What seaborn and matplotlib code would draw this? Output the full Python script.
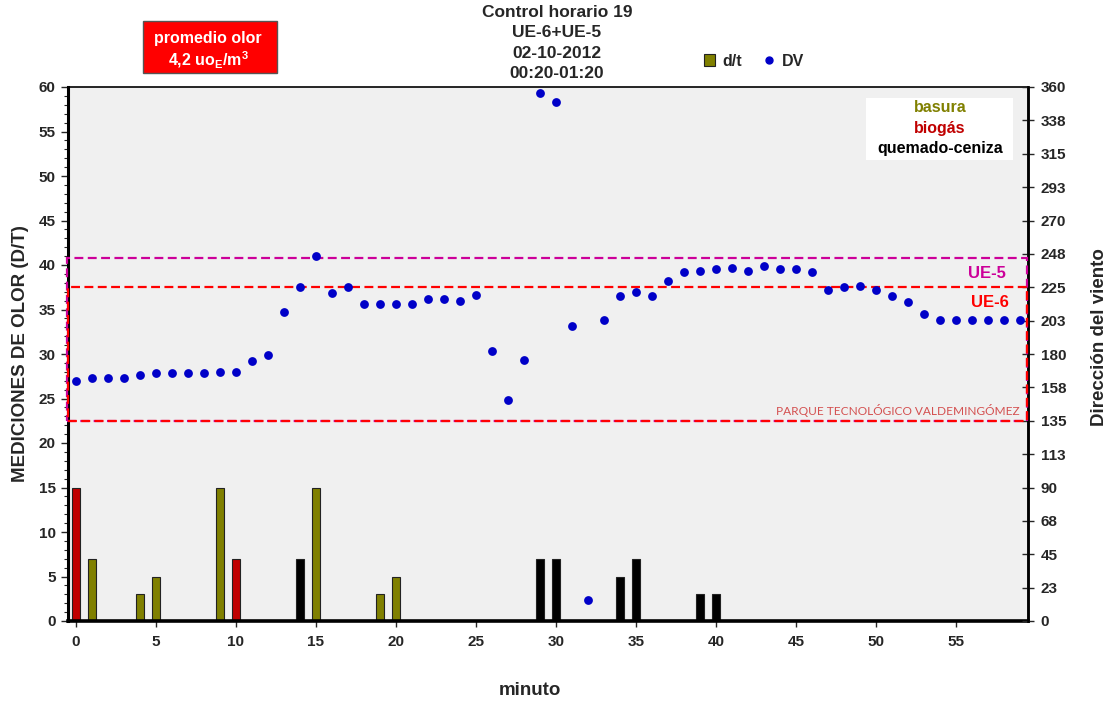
import numpy as np
import pandas as pd
import seaborn as sns
from matplotlib import pyplot as plt
from matplotlib.patches import Rectangle, Patch
from matplotlib.lines import Line2D
from matplotlib.ticker import MultipleLocator, FixedLocator

# * data
minutes = list(range(60))
wind_dir = [162, 164, 164, 164, 166, 167, 167, 167, 167, 168, 168, 175, 179, 208, 225,
            246, 221, 225, 214, 214, 214, 214, 217, 217, 216, 220, 182, 149, 176, 356,
            350, 199, 14, 203, 219, 222, 219, 229, 235, 236, 237, 238, 236, 239, 237,
            237, 235, 223, 225, 226, 223, 219, 215, 207, 203, 203, 203, 203, 203, 203]

bar_minutes = [0, 1, 4, 5, 9, 10, 14, 15, 19, 20, 29, 30, 34, 35, 39, 40]
bar_values = [15, 7, 3, 5, 15, 7, 7, 15, 3, 5, 7, 7, 5, 7, 3, 3]
bar_types = ["biogás", "basura", "basura", "basura", "basura", "biogás", "quemado-ceniza",
             "basura", "basura", "basura", "quemado-ceniza", "quemado-ceniza",
             "quemado-ceniza", "quemado-ceniza", "quemado-ceniza", "quemado-ceniza"]

type_names = ["basura", "biogás", "quemado-ceniza"]
type_colors = ["#808000", "#c00000", "#000000"]

x_ticks = list(range(0, 60, 5))
dir_ticks = list(np.arange(0, 361, 22.5))
dir_ticklabels = ["0", "23", "45", "68", "90", "113", "135", "158", "180",
                  "203", "225", "248", "270", "293", "315", "338", "360"]

# zones on the wind-direction axis
zone_low = 135
ue5_top = 245
ue6_top = 225

# --- style ---
sns.set_style("ticks")
plt.rcParams["font.family"] = ["Liberation Sans", "DejaVu Sans"]
plt.rcParams["font.weight"] = "bold"
plt.rcParams["mathtext.fontset"] = "custom"
plt.rcParams["mathtext.bf"] = "Liberation Sans:bold"
plt.rcParams["mathtext.rm"] = "Liberation Sans:bold"
plt.rcParams["mathtext.it"] = "Liberation Sans:bold"

fig = plt.figure(figsize=(11.15, 7.08), dpi=100)
ax = fig.add_axes([68 / 1115, 1 - 621 / 708, 960 / 1115, 534 / 708])
ax.set_facecolor("#f0f0f0")

# * bars (d/t)
df_bars = pd.DataFrame({"minuto": bar_minutes, "dt": bar_values, "tipo": bar_types})
sns.barplot(
    data=df_bars, x="minuto", y="dt", hue="tipo", hue_order=type_names,
    palette=dict(zip(type_names, type_colors)), native_scale=True, dodge=False,
    width=0.45, errorbar=None, saturation=1, edgecolor="#222222", linewidth=0.8,
    legend=False, ax=ax,
)

ax.set_xlim(-0.5, 59.5)
ax.set_ylim(0, 60)
ax.xaxis.set_major_locator(FixedLocator(x_ticks))
ax.set_xticklabels([str(t) for t in x_ticks])
ax.yaxis.set_major_locator(MultipleLocator(5))
ax.yaxis.set_minor_locator(MultipleLocator(1))
ax.tick_params(axis="y", which="major", length=5, width=1, direction="out", labelsize=11, pad=4)
ax.tick_params(axis="y", which="minor", length=3, width=0.8, direction="out")
ax.tick_params(axis="x", length=4, width=1, direction="out", labelsize=11, pad=6)
for lbl in ax.get_xticklabels() + ax.get_yticklabels():
    lbl.set_fontweight("bold")

for side, lw in [("left", 2.2), ("bottom", 2.6), ("top", 1.2), ("right", 1.8)]:
    ax.spines[side].set_visible(True)
    ax.spines[side].set_linewidth(lw)
    ax.spines[side].set_color("black")

ax.set_ylabel("MEDICIONES DE OLOR (D/T)", fontsize=13.5, fontweight="bold")
ax.yaxis.set_label_coords(-0.041, 0.5)
ax.set_xlabel("minuto", fontsize=13.5, fontweight="bold")
ax.xaxis.set_label_coords(0.481, -0.115)

# * wind direction (DV) on twin axis
ax2 = ax.twinx()
sns.scatterplot(x=minutes, y=wind_dir, ax=ax2, color="#0000c8", s=40, linewidth=0,
                legend=False, zorder=5)
ax2.set_ylim(0, 360)
ax2.set_xlim(-0.5, 59.5)
ax2.yaxis.set_major_locator(FixedLocator(dir_ticks))
ax2.set_yticklabels(dir_ticklabels)
ax2.tick_params(axis="y", length=8, width=1, direction="inout", labelsize=11, pad=5)
for lbl in ax2.get_yticklabels():
    lbl.set_fontweight("bold")
for side in ["left", "bottom", "top"]:
    ax2.spines[side].set_visible(False)
ax2.spines["right"].set_linewidth(1.8)
ax2.spines["right"].set_color("black")
ax2.set_ylabel("Dirección del viento", fontsize=13.5, fontweight="bold", rotation=90)
ax2.yaxis.set_label_coords(1.0657, 0.532)

# * zone boxes
ax2.add_patch(Rectangle((-0.57, zone_low), 60.0, ue5_top - zone_low, fill=False,
                        edgecolor="#cc0099", linestyle=(0, (4, 2)), linewidth=1.6,
                        clip_on=False, zorder=3))
ax2.add_patch(Rectangle((-0.5, zone_low), 59.95, ue6_top - zone_low, fill=False,
                        edgecolor="#ff0000", linestyle=(0, (4, 2)), linewidth=1.6,
                        clip_on=False, zorder=3))
ax2.text(58.1, ue5_top - 6, "UE-5", color="#cc0099", fontsize=12, fontweight="bold",
         ha="right", va="top")
ax2.text(58.3, ue6_top - 5, "UE-6", color="#ff0000", fontsize=12, fontweight="bold",
         ha="right", va="top")
ax2.text(58.95, zone_low + 2.5, "PARQUE TECNOLÓGICO VALDEMINGÓMEZ", color="#d45050",
         fontsize=8.6, fontweight="normal", family=["Lato", "DejaVu Sans"],
         ha="right", va="bottom")

# * type legend box (top right)
ax.add_patch(Rectangle(((866 - 68) / 960, (621 - 160) / 534), 147 / 960, 62 / 534,
                       transform=ax.transAxes, facecolor="white", edgecolor="none", zorder=4))
for i, (name, col) in enumerate(zip(type_names, type_colors)):
    ax2.text((940 - 68) / 960, (621 - 108 - 20 * i) / 534, name, transform=ax.transAxes,
             color=col, fontsize=11.5, fontweight="bold", ha="center", va="center", zorder=6)

# * title
fig.text(0.4996, 1 - 5 / 708, "Control horario 19\nUE-6+UE-5\n02-10-2012\n00:20-01:20",
         ha="center", va="top", fontsize=12.5, fontweight="bold", linespacing=1.44)

# * promedio box
fig.patches.append(Rectangle((143 / 1115, 1 - 73 / 708), 134 / 1115, 52 / 708,
                             transform=fig.transFigure, facecolor="#ff0000",
                             edgecolor="#555555", linewidth=1))
fig.text(208 / 1115, 1 - 51 / 708, "promedio olor\n4,2 uo$_\\mathbf{E}$/m$^\\mathbf{3}$",
         color="white", ha="center", va="center", fontsize=11.5, fontweight="bold",
         linespacing=1.2)

# * series legend
handles = [Patch(facecolor="#808000", edgecolor="#222222", linewidth=0.8),
           Line2D([], [], marker="o", linestyle="none", color="#0000c8", markersize=5)]
fig.legend(handles, ["d/t", "DV"], loc="center", bbox_to_anchor=(754 / 1115, 1 - 61 / 708),
           ncol=2, frameon=False, handlelength=0.7, handleheight=0.8, handletextpad=0.4,
           columnspacing=1.4, prop={"weight": "bold", "size": 11.5})

fig.savefig("out.png", dpi=100, facecolor="white")
